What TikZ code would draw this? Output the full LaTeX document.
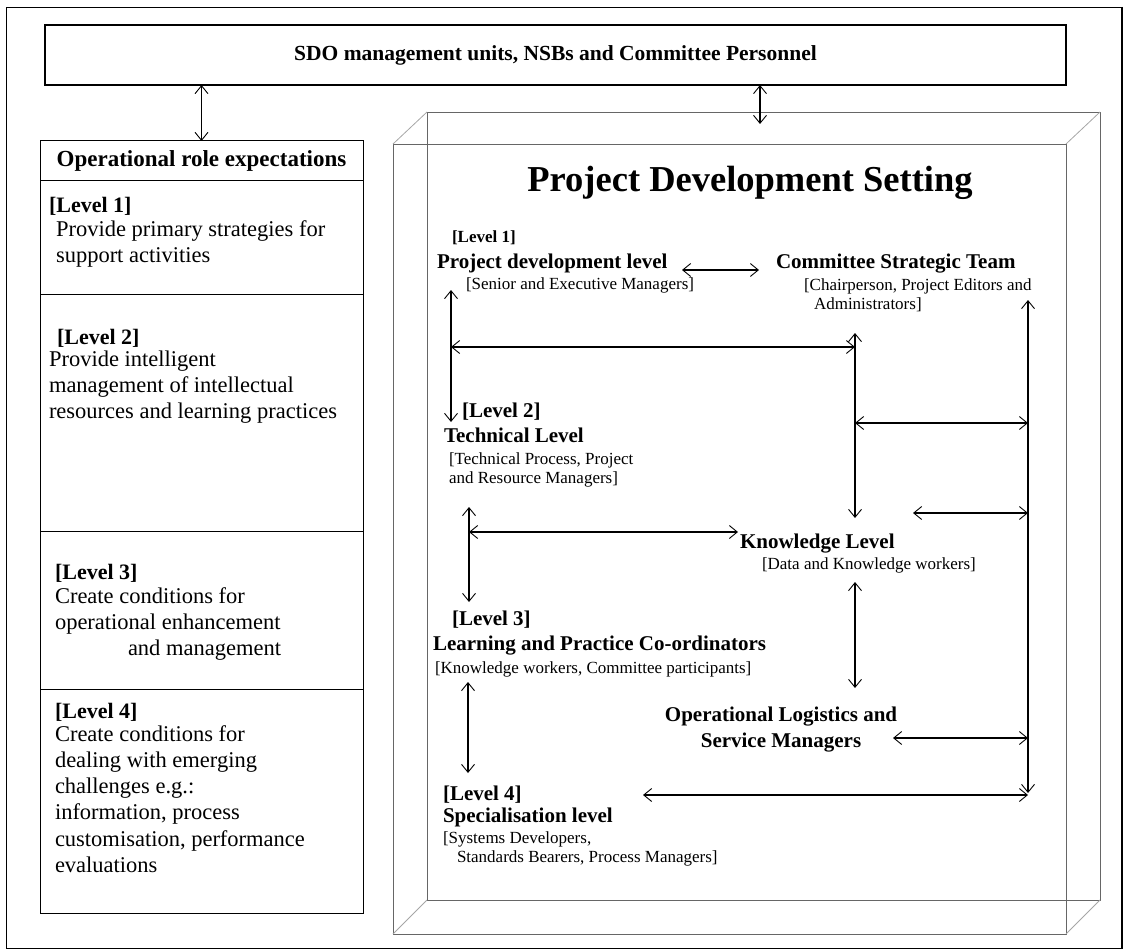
\documentclass[tikz,border=0pt]{standalone}
\usepackage{fontspec}
\setmainfont{Liberation Serif}
\usetikzlibrary{arrows.meta}

% multi-line nodes are placed by the baseline of their last line
\tikzset{
  every node/.style={inner sep=0pt, outer sep=0pt},
  lbl/.style={font=\bfseries\fontsize{21}{24}\selectfont, anchor=base west},
  sub/.style={font=\fontsize{17}{19.5}\selectfont, anchor=base west, align=left},
  colbody/.style={font=\fontsize{22.5}{26.3}\selectfont, anchor=base west, align=left},
  collvl/.style={font=\bfseries\fontsize{22}{26}\selectfont, anchor=base west},
  cell/.style={draw, line width=1pt, minimum width=323pt},
  barb/.tip={Straight Barb[length=8pt,width=13pt,line width=0.9pt]},
  link/.style={line width=1.1pt, barb-barb},
  wire/.style={draw=black!60, line width=0.8pt},
  edge3d/.style={draw=black!35, line width=0.8pt},
}

\begin{document}
\begin{tikzpicture}[x=1pt,y=-1pt]
\useasboundingbox (0,0) rectangle (1126,952);

% page frame
\draw[line width=0.9pt] (6,7) rectangle (1122,948);
\draw[line width=2.5pt] (1122,7) -- (1122,948);

% top box
\node[draw, line width=1.2pt, minimum width=1021pt, minimum height=60pt,
      font=\bfseries\fontsize{21.5}{24}\selectfont] (sdo) at (555.5,55)
      {SDO management units, NSBs and Committee Personnel};

% left column: role expectations
\node[cell, minimum height=40pt, font=\bfseries\fontsize{23}{26}\selectfont] (colhead) at (201.5,161) {Operational role expectations};
\node[cell, minimum height=113pt] (cell1) at (201.5,237.5) {};
\node[cell, minimum height=237pt] (cell2) at (201.5,412.5) {};
\node[cell, minimum height=158pt] (cell3) at (201.5,610) {};
\node[cell, minimum height=224pt] (cell4) at (201.5,801) {};

\node[collvl] (c1lvl) at (49,212) {[Level 1]};
\node[colbody] (c1txt) at (56,262.3) {Provide primary strategies for\\support activities};
\node[collvl] (c2lvl) at (57,344) {[Level 2]};
\node[colbody] (c2txt) at (49,418.6) {Provide intelligent\\management of intellectual\\resources and learning practices};
\node[collvl] (c3lvl) at (55,579) {[Level 3]};
\node[colbody] (c3txt) at (55,655.6) {Create conditions for\\operational enhancement\\\hspace*{73pt}and management};
\node[collvl] (c4lvl) at (55,718) {[Level 4]};
\node[colbody] (c4txt) at (55,872.5) {Create conditions for\\dealing with emerging\\challenges e.g.:\\information, process\\customisation, performance\\evaluations};

% project setting: wireframe box
\draw[wire] (393,144) rectangle (1066,934);
\draw[wire] (427,112) rectangle (1100,900);
\draw[edge3d] (393,144) -- (427,112) (1066,144) -- (1100,112)
              (393,934) -- (427,900) (1066,934) -- (1100,900);

\node[font=\bfseries\fontsize{36.5}{40}\selectfont, anchor=base] (title) at (750,191) {Project Development Setting};

\node[font=\bfseries\fontsize{17}{19}\selectfont, anchor=base west] (p1lvl) at (452,242) {[Level 1]};
\node[lbl] (pdl) at (437,268) {Project development level};
\node[sub] (pdlsub) at (466,289) {[Senior and Executive Managers]};
\node[lbl] (cst) at (776,268) {Committee Strategic Team};
\node[sub] (cstsub) at (804,309.5) {[Chairperson, Project Editors and\\\hspace*{10pt}Administrators]};

\node[lbl] (p2lvl) at (462,417) {[Level 2]};
\node[lbl] (tech) at (444,442) {Technical Level};
\node[sub] (techsub) at (449,483.5) {[Technical Process, Project\\and Resource Managers]};

\node[lbl] (know) at (740,548) {Knowledge Level};
\node[sub] (knowsub) at (762,569) {[Data and Knowledge workers]};

\node[lbl] (p3lvl) at (452,625) {[Level 3]};
\node[lbl] (learn) at (433,650) {Learning and Practice Co-ordinators};
\node[sub] (learnsub) at (435,673) {[Knowledge workers, Committee participants]};

\node[font=\bfseries\fontsize{21}{26}\selectfont, align=center, anchor=base] (ops) at (781,747) {Operational Logistics and\\Service Managers};

\node[lbl] (p4lvl) at (443,800) {[Level 4]};
\node[lbl] (spec) at (443,822) {Specialisation level};
\node[sub] (specsub) at (443,862.5) {[Systems Developers,\\\hspace*{14pt}Standards Bearers, Process Managers]};

% connector end points
\coordinate (panelin) at (760,124);
\coordinate (pdlR) at (682,270);  \coordinate (cstL) at (759,270);
\coordinate (v1t) at (451,290);   \coordinate (v1b) at (451,422);
\coordinate (h1l) at (451,347);   \coordinate (h1r) at (855,347);
\coordinate (v2t) at (855,333);   \coordinate (v2b) at (855,518);
\coordinate (h2l) at (855,423);   \coordinate (h2r) at (1028,423);
\coordinate (v3t) at (1028,300);  \coordinate (v3b) at (1028,793);
\coordinate (h3l) at (913,513);   \coordinate (h3r) at (1028,513);
\coordinate (v4t) at (469,507);   \coordinate (v4b) at (469,602);
\coordinate (h4l) at (469,532);   \coordinate (h4r) at (738,532);
\coordinate (v5t) at (855,582);   \coordinate (v5b) at (855,688);
\coordinate (v6t) at (468,682);   \coordinate (v6b) at (468,773);
\coordinate (h5l) at (893,738);   \coordinate (h5r) at (1028,738);
\coordinate (h6l) at (643,795);   \coordinate (h6r) at (1028,795);

% connectors
\draw[link] (sdo.south -| colhead.north) -- (colhead.north);
\draw[link] (sdo.south -| panelin) -- (panelin);
\draw[link] (pdlR) -- (cstL);
\draw[link] (v1t) -- (v1b);
\draw[link] (h1l) -- (h1r);
\draw[link] (v2t) -- (v2b);
\draw[link] (h2l) -- (h2r);
\draw[link] (v3t) -- (v3b);
\draw[link] (h3l) -- (h3r);
\draw[link] (v4t) -- (v4b);
\draw[link] (h4l) -- (h4r);
\draw[link] (v5t) -- (v5b);
\draw[link] (v6t) -- (v6b);
\draw[link] (h5l) -- (h5r);
\draw[link] (h6l) -- (h6r);
\end{tikzpicture}
\end{document}
